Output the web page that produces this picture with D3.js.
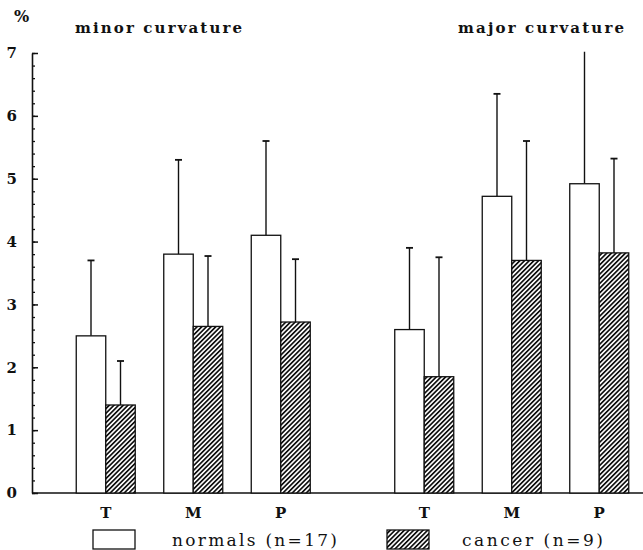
<!DOCTYPE html>
<html>
<head>
<meta charset="utf-8">
<script src="https://cdn.jsdelivr.net/npm/d3@7"></script>
<style>
  body { margin: 0; background: #fff; }
  svg text { font-family: 'DejaVu Serif', serif; font-weight: bold; fill: #111; }
</style>
</head>
<body>
<div id="chart"></div>
<script>
const REGIONS = ['minor curvature', 'major curvature'];
const SITES = ['T', 'M', 'P'];
const GROUPS = ['normals', 'cancer'];
const LEGEND = ['normals (n=17)', 'cancer (n=9)'];
// means and upper whisker ends, minor T,M,P then major T,M,P
const normalsMean = [2.5, 3.8, 4.1, 2.6, 4.72, 4.92];
const normalsUpper = [3.7, 5.3, 5.6, 3.9, 6.35, 7.02];
const cancerMean = [1.4, 2.65, 2.72, 1.85, 3.7, 3.82];
const cancerUpper = [2.1, 3.77, 3.72, 3.75, 5.6, 5.32];

const W = 643, H = 550;
const svg = d3.select('#chart').append('svg').attr('width', W).attr('height', H);

const defs = svg.append('defs');
const pat = defs.append('pattern').attr('id', 'hatch').attr('patternUnits', 'userSpaceOnUse')
  .attr('width', 3.3).attr('height', 3.3).attr('patternTransform', 'rotate(45)');
pat.append('rect').attr('width', 3.3).attr('height', 3.3).attr('fill', '#fff');
pat.append('line').attr('x1', 0.8).attr('y1', 0).attr('x2', 0.8).attr('y2', 3.3).attr('stroke', '#111').attr('stroke-width', 1.8);

const axisX = 32;
const y = d3.scaleLinear().domain([0, 7]).range([493, 53]);
const region = d3.scaleBand().domain(REGIONS).range([62, 643]).paddingInner(0.1758);
const site = d3.scaleBand().domain(SITES).range([0, region.bandwidth()]);
const grp = d3.scaleBand().domain(GROUPS).range([0, site.bandwidth()]).paddingInner(0).paddingOuter(0.483);

const rows = [];
REGIONS.forEach((r, ri) => SITES.forEach((s, si) => {
  const i = ri * 3 + si;
  rows.push({ region: r, site: s, group: 'normals', mean: normalsMean[i], upper: normalsUpper[i] });
  rows.push({ region: r, site: s, group: 'cancer', mean: cancerMean[i], upper: cancerUpper[i] });
}));
const bx = d => region(d.region) + site(d.site) + grp(d.group);

// y axis: minor ticks then major ticks with labels
const yAxisG = svg.append('g').attr('transform', `translate(${axisX},0)`);
yAxisG.append('g').call(d3.axisRight(y).tickValues(d3.range(0, 7.01, 0.2)).tickSize(3).tickFormat('').tickSizeOuter(0))
  .call(g => g.select('.domain').remove())
  .call(g => g.selectAll('line').attr('stroke', '#111').attr('stroke-width', 1.3));
yAxisG.append('g').call(d3.axisLeft(y).ticks(7).tickSize(-6).tickPadding(15).tickSizeOuter(0))
  .call(g => g.select('.domain').attr('stroke', '#111').attr('stroke-width', 1.6))
  .call(g => g.selectAll('line').attr('stroke', '#111').attr('stroke-width', 1.5))
  .call(g => g.selectAll('text').style('font-family', "'DejaVu Serif', serif").style('font-weight', 'bold').style('font-size', '15px').attr('fill', '#111'));

svg.append('text').attr('x', 14).attr('y', 22).style('font-size', '16px').text('%');

// baseline
svg.append('line').attr('x1', axisX).attr('x2', W).attr('y1', y(0)).attr('y2', y(0)).attr('stroke', '#111').attr('stroke-width', 1.6);

// error whiskers
const wg = svg.append('g').attr('stroke', '#111').attr('stroke-width', 1.4);
wg.selectAll('line.w').data(rows).enter().append('line').attr('class', 'w')
  .attr('x1', d => bx(d) + grp.bandwidth() / 2).attr('x2', d => bx(d) + grp.bandwidth() / 2)
  .attr('y1', d => y(d.mean)).attr('y2', d => y(d.upper));
wg.selectAll('line.c').data(rows.filter(d => d.upper <= 7)).enter().append('line').attr('class', 'c')
  .attr('x1', d => bx(d) + grp.bandwidth() / 2 - 3.5).attr('x2', d => bx(d) + grp.bandwidth() / 2 + 3.5)
  .attr('y1', d => y(d.upper)).attr('y2', d => y(d.upper)).attr('stroke-width', 1.8);

// bars
svg.append('g').selectAll('rect').data(rows).enter().append('rect')
  .attr('x', bx).attr('width', grp.bandwidth())
  .attr('y', d => y(d.mean)).attr('height', d => y(0) - y(d.mean))
  .attr('fill', d => d.group === 'normals' ? '#fff' : 'url(#hatch)')
  .attr('stroke', '#111').attr('stroke-width', 1.3);

// category labels and region titles
REGIONS.forEach((r, ri) => {
  const g = svg.append('g').attr('transform', `translate(${region(r)},${y(0)})`);
  g.call(d3.axisBottom(site).tickSize(0).tickPadding(14))
    .call(g => g.select('.domain').remove())
    .call(g => g.selectAll('text').style('font-family', "'DejaVu Serif', serif").style('font-weight', 'bold').style('font-size', '15px').attr('fill', '#111'));
});
svg.append('text').attr('x', 75).attr('y', 33).style('font-size', '15px')
  .attr('textLength', 167).attr('lengthAdjust', 'spacing').text(REGIONS[0]);
svg.append('text').attr('x', 458).attr('y', 33).style('font-size', '15px')
  .attr('textLength', 166).attr('lengthAdjust', 'spacing').text(REGIONS[1]);

// legend
const legX = [93, 387], legTX = [172, 462], legTW = [165, 141];
GROUPS.forEach((gname, i) => {
  svg.append('rect').attr('x', legX[i]).attr('y', 530).attr('width', 42).attr('height', 19)
    .attr('fill', gname === 'normals' ? '#fff' : 'url(#hatch)').attr('stroke', '#111').attr('stroke-width', 1.3);
  svg.append('text').attr('x', legTX[i]).attr('y', 546).style('font-size', '17px').style('font-weight', 'normal')
    .attr('textLength', legTW[i]).attr('lengthAdjust', 'spacing').text(LEGEND[i]);
});
</script>
</body>
</html>
